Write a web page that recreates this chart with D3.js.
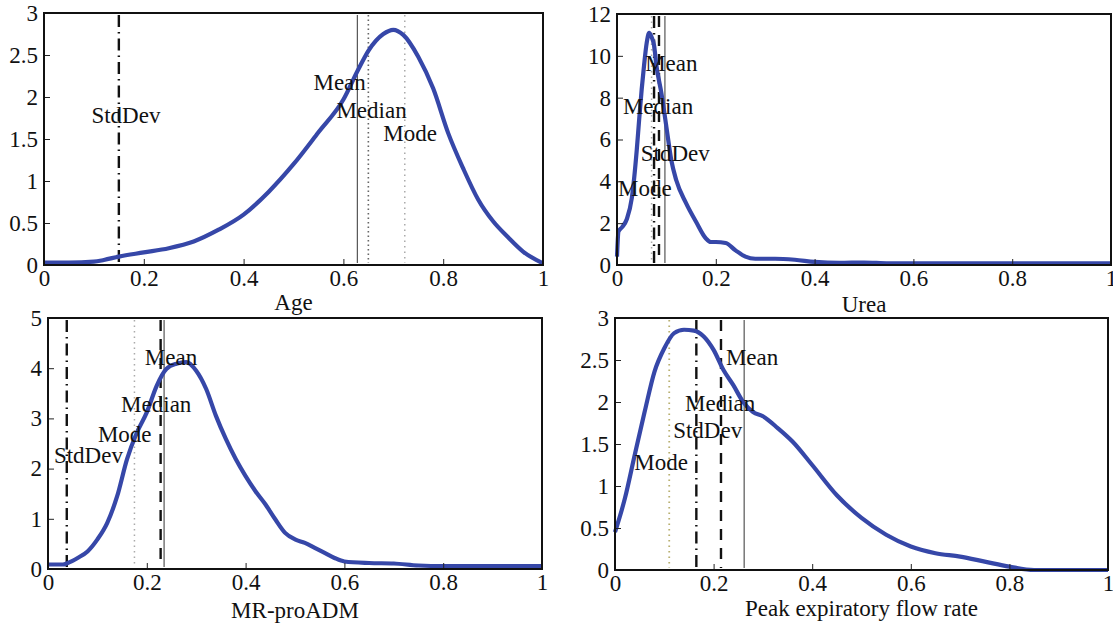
<!DOCTYPE html>
<html>
<head>
<meta charset="utf-8">
<script src="https://cdn.jsdelivr.net/npm/d3@7"></script>
<style>
  body { margin: 0; background: #fff; }
  text { font-family: "Liberation Serif", "Times New Roman", serif; }
</style>
</head>
<body>
<div id="chart"></div>
<script>
// curvas de densidad
const ageX = [0, 0.05, 0.1, 0.12, 0.15, 0.2, 0.25, 0.3, 0.35, 0.4, 0.45, 0.5, 0.55, 0.6, 0.63, 0.65, 0.68, 0.7, 0.72, 0.75, 0.78, 0.81, 0.84, 0.87, 0.9, 0.93, 0.96, 1];
const ageY = [0.03, 0.03, 0.04, 0.06, 0.1, 0.15, 0.2, 0.28, 0.42, 0.6, 0.87, 1.2, 1.58, 1.97, 2.33, 2.55, 2.75, 2.8, 2.74, 2.48, 2.1, 1.57, 1.15, 0.78, 0.52, 0.33, 0.16, 0.02];

const ureaX = [0, 0.003, 0.01, 0.02, 0.03, 0.04, 0.045, 0.05, 0.055, 0.06, 0.065, 0.07, 0.075, 0.08, 0.09, 0.1, 0.11, 0.12, 0.14, 0.16, 0.18, 0.19, 0.2, 0.22, 0.24, 0.26, 0.28, 0.32, 0.36, 0.4, 0.45, 0.5, 0.55, 1];
const ureaY = [0.4, 1.6, 1.8, 2.2, 3.2, 5.5, 7, 8.4, 9.6, 10.6, 11.1, 10.9, 10.5, 9.5, 8.2, 6.6, 5.0, 4.05, 2.95, 2.07, 1.27, 1.1, 1.1, 1.05, 0.7, 0.4, 0.3, 0.3, 0.25, 0.15, 0.1, 0.12, 0.08, 0.08];

const mrX = [0, 0.03, 0.04, 0.06, 0.08, 0.1, 0.12, 0.14, 0.16, 0.18, 0.2, 0.22, 0.24, 0.26, 0.28, 0.3, 0.32, 0.34, 0.36, 0.38, 0.4, 0.42, 0.44, 0.46, 0.48, 0.5, 0.52, 0.54, 0.56, 0.58, 0.6, 0.65, 0.7, 0.75, 0.8, 1];
const mrY = [0.09, 0.09, 0.12, 0.22, 0.35, 0.59, 0.92, 1.45, 2.19, 2.72, 3.12, 3.65, 3.99, 4.09, 4.12, 3.95, 3.59, 3.05, 2.59, 2.19, 1.85, 1.55, 1.29, 0.99, 0.72, 0.59, 0.52, 0.42, 0.32, 0.22, 0.15, 0.12, 0.11, 0.07, 0.06, 0.06];

const pefX = [0, 0.02, 0.04, 0.06, 0.08, 0.1, 0.12, 0.14, 0.16, 0.18, 0.2, 0.22, 0.24, 0.26, 0.28, 0.3, 0.33, 0.36, 0.4, 0.45, 0.5, 0.55, 0.6, 0.65, 0.7, 0.75, 0.8, 0.85, 0.9, 1];
const pefY = [0.45, 0.85, 1.37, 1.88, 2.36, 2.64, 2.82, 2.86, 2.85, 2.78, 2.62, 2.38, 2.2, 2.0, 1.88, 1.83, 1.69, 1.53, 1.25, 0.89, 0.62, 0.42, 0.28, 0.2, 0.16, 0.1, 0.04, 0.0, 0.0, 0.0];

// líneas verticales: nombre, posición x
const statNames = ["Mean", "Median", "Mode", "StdDev"];
const ageStats = [0.628, 0.65, 0.723, 0.15];
const ureaStats = [0.097, 0.085, 0.07, 0.075];
const mrStats = [0.235, 0.228, 0.175, 0.038];
const pefStats = [0.262, 0.215, 0.11, 0.165];

// etiquetas: [x izquierda, y centro] en unidades de datos
const ageLabels = [[0.54, 2.18], [0.586, 1.85], [0.68, 1.57], [0.095, 1.79]];
const ureaLabels = [[0.057, 9.67], [0.012, 7.62], [0.002, 3.67], [0.048, 5.38]];
const mrLabels = [[0.196, 4.22], [0.148, 3.29], [0.101, 2.7], [0.012, 2.28]];
const pefLabels = [[0.225, 2.54], [0.142, 1.99], [0.039, 1.29], [0.118, 1.67]];

const xTicks = [0, 0.2, 0.4, 0.6, 0.8, 1];
const ageYTicks = [0, 0.5, 1, 1.5, 2, 2.5, 3];
const ureaYTicks = [0, 2, 4, 6, 8, 10, 12];
const mrYTicks = [0, 1, 2, 3, 4, 5];
const pefYTicks = [0, 0.5, 1, 1.5, 2, 2.5, 3];

// estilos de líneas por panel (Mean, Median, Mode, StdDev)
const solid = { color: "#555", width: 1.2, dash: null };
const dotDark = { color: "#666", width: 1.6, dash: "1.5,3" };
const dotLight = { color: "#aaa", width: 1.5, dash: "1.5,4" };
const dotOlive = { color: "#b8b070", width: 1.8, dash: "1.5,4" };
const dashed = { color: "#111", width: 2.4, dash: "11,8" };
const dashDot = { color: "#111", width: 2.4, dash: "12,5,1.5,5" };

const panels = [
  { box: [44, 543, 13, 265], yMax: 3, xs: ageX, ys: ageY, stats: ageStats, labels: ageLabels, yTicks: ageYTicks,
    styles: [solid, dotDark, dotLight, dashDot], title: "Age", titleY: 310 },
  { box: [617, 1111, 14, 265], yMax: 12, xs: ureaX, ys: ureaY, stats: ureaStats, labels: ureaLabels, yTicks: ureaYTicks,
    styles: [solid, dashed, dotLight, dashDot], title: "Urea", titleY: 312 },
  { box: [48, 542, 318, 569], yMax: 5, xs: mrX, ys: mrY, stats: mrStats, labels: mrLabels, yTicks: mrYTicks,
    styles: [solid, dashed, dotLight, dashDot], title: "MR-proADM", titleY: 618 },
  { box: [615, 1108, 318, 570], yMax: 3, xs: pefX, ys: pefY, stats: pefStats, labels: pefLabels, yTicks: pefYTicks,
    styles: [solid, dashed, dotOlive, dashDot], title: "Peak expiratory flow rate", titleY: 616 }
];

const fontSize = "23px";

const svg = d3.select("#chart")
  .append("svg")
  .attr("width", 1113)
  .attr("height", 628);

const fmt = d3.format("~g");

panels.forEach(p => {
  const [left, right, top, bottom] = p.box;
  const x = d3.scaleLinear().domain([0, 1]).range([left, right]);
  const y = d3.scaleLinear().domain([0, p.yMax]).range([bottom, top]);
  const g = svg.append("g");

  // líneas verticales de estadísticos
  p.stats.forEach((v, i) => {
    const s = p.styles[i];
    g.append("line")
      .attr("x1", x(v)).attr("x2", x(v))
      .attr("y1", top + 2).attr("y2", bottom - 2)
      .attr("stroke", s.color)
      .attr("stroke-width", s.width)
      .attr("stroke-dasharray", s.dash);
  });

  // curva
  const linea = d3.line()
    .x((d, i) => x(p.xs[i]))
    .y(d => y(d))
    .curve(d3.curveMonotoneX);

  g.append("path")
    .datum(p.ys)
    .attr("fill", "none")
    .attr("stroke", "#3647a8")
    .attr("stroke-width", 4.2)
    .attr("stroke-linejoin", "round")
    .attr("d", linea);

  // etiquetas
  p.labels.forEach((l, i) => {
    g.append("text")
      .attr("x", x(l[0]))
      .attr("y", y(l[1]))
      .attr("dy", "0.35em")
      .style("font-size", fontSize)
      .style("fill", "#111")
      .text(statNames[i]);
  });

  // ejes
  const ax = g.append("g")
    .attr("transform", `translate(0,${bottom})`)
    .call(d3.axisBottom(x).tickValues(xTicks).tickFormat(fmt).tickSizeInner(-6).tickSizeOuter(0).tickPadding(5));
  const ay = g.append("g")
    .attr("transform", `translate(${left},0)`)
    .call(d3.axisLeft(y).tickValues(p.yTicks).tickFormat(fmt).tickSizeInner(-6).tickSizeOuter(0).tickPadding(6));

  [ax, ay].forEach(a => {
    a.select(".domain").remove();
    a.selectAll("text")
      .style("font-family", "'Liberation Serif', serif")
      .style("font-size", fontSize)
      .style("fill", "#111");
    a.selectAll("line").attr("stroke", "#222");
  });

  // marco
  g.append("rect")
    .attr("x", left).attr("y", top)
    .attr("width", right - left).attr("height", bottom - top)
    .attr("fill", "none")
    .attr("stroke", "#111")
    .attr("stroke-width", 2);

  // título del eje x
  g.append("text")
    .attr("x", (left + right) / 2)
    .attr("y", p.titleY)
    .attr("text-anchor", "middle")
    .style("font-size", fontSize)
    .style("fill", "#111")
    .text(p.title);
});
</script>
</body>
</html>
